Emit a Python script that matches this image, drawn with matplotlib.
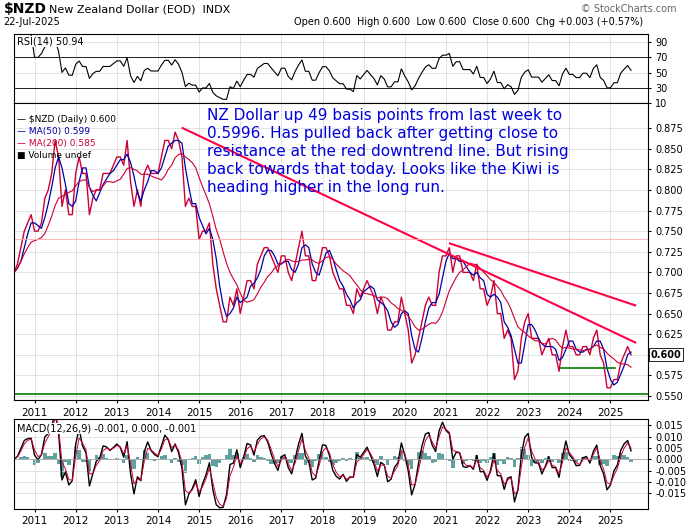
import matplotlib.pyplot as plt
import numpy as np
import pandas as pd

# monthly closes, Jul 2010 .. Jul 2025
closes = [0.70, 0.71, 0.73, 0.75, 0.76, 0.77,
          0.75, 0.75, 0.76, 0.79, 0.80, 0.82, 0.86, 0.84, 0.78, 0.80, 0.77, 0.77,
          0.82, 0.84, 0.82, 0.82, 0.77, 0.79, 0.80, 0.80, 0.82, 0.82, 0.82, 0.83,
          0.84, 0.84, 0.83, 0.86, 0.81, 0.78, 0.80, 0.78, 0.82, 0.83, 0.82, 0.82,
          0.82, 0.84, 0.86, 0.86, 0.85, 0.87, 0.86, 0.84, 0.78, 0.79, 0.78, 0.78,
          0.74, 0.75, 0.75, 0.76, 0.71, 0.68, 0.66, 0.64, 0.64, 0.67, 0.66, 0.68,
          0.65, 0.67, 0.69, 0.69, 0.68, 0.71, 0.72, 0.73, 0.73, 0.72, 0.71, 0.70,
          0.72, 0.72, 0.70, 0.69, 0.71, 0.73, 0.75, 0.72, 0.72, 0.69, 0.69, 0.71,
          0.73, 0.73, 0.72, 0.70, 0.69, 0.68, 0.68, 0.66, 0.66, 0.65, 0.68, 0.67,
          0.68, 0.69, 0.68, 0.67, 0.65, 0.67, 0.66, 0.63, 0.63, 0.64, 0.64, 0.67,
          0.65, 0.63, 0.59, 0.60, 0.62, 0.64, 0.66, 0.67, 0.66, 0.66, 0.70, 0.72,
          0.72, 0.73, 0.70, 0.72, 0.72, 0.70, 0.70, 0.70, 0.69, 0.71, 0.68, 0.68,
          0.66, 0.67, 0.69, 0.65, 0.65, 0.62, 0.63, 0.62, 0.57, 0.58, 0.62, 0.64,
          0.65, 0.62, 0.62, 0.62, 0.60, 0.61, 0.62, 0.60, 0.60, 0.58, 0.61, 0.63,
          0.61, 0.61, 0.60, 0.60, 0.61, 0.61, 0.60, 0.62, 0.63, 0.60, 0.59, 0.56,
          0.56, 0.57, 0.57, 0.59, 0.60, 0.61, 0.60]
years = list(range(2011, 2026))
trend1 = ([2014.6, 2025.6], [0.875, 0.615])
trend2 = ([2021.1, 2025.6], [0.735, 0.66])
support = ([2023.8, 2025.1], [0.584, 0.584])
note = ("NZ Dollar up 49 basis points from last week to\n0.5996. Has pulled back after getting close to\n"
        "resistance at the red downtrend line. But rising\nback towards that today. Looks like the Kiwi is\n"
        "heading higher in the long run.")

t = 2010.5 + np.arange(len(closes)) / 12
s = pd.Series(closes)
ma50 = s.rolling(3, min_periods=1).mean()
ma200 = s.rolling(10, min_periods=1).mean()
d = s.diff()
up = d.clip(lower=0).ewm(alpha=1/8).mean()
dn = (-d.clip(upper=0)).ewm(alpha=1/8).mean()
rsi = 100 - 100 / (1 + up / dn.replace(0, 1e-9))
macd = s.ewm(span=2).mean() - s.ewm(span=4).mean()
sig = macd.ewm(span=2).mean()

fig = plt.figure(figsize=(7, 5.3), dpi=100)
axr = fig.add_axes([0.02, 0.805, 0.905, 0.13])
axp = fig.add_axes([0.02, 0.245, 0.905, 0.56])
axm = fig.add_axes([0.02, 0.04, 0.905, 0.17])
xlim = (2010.5, 2025.9)

for ax in (axr, axp, axm):
    ax.set_xlim(*xlim)
    ax.yaxis.tick_right()
    ax.tick_params(labelsize=7, length=2)
    ax.set_xticks(years)
    ax.grid(color='#dddddd', lw=0.6)
axr.set_xticklabels([])

axr.plot(t, rsi, color='black', lw=0.8)
axr.set_ylim(10, 100)
axr.set_yticks([10, 30, 50, 70, 90])
for lvl in (30, 70):
    axr.axhline(lvl, color='black', lw=0.6)
axr.text(0.005, 0.85, 'RSI(14) 50.94', transform=axr.transAxes, fontsize=7,
         bbox=dict(fc='white', ec='none', pad=0.5))

axp.plot(t, closes, color='#cc0033', lw=1.0)
axp.plot(t, ma50, color='#0000aa', lw=0.9)
axp.plot(t, ma200, color='#cc0033', lw=0.8)
axp.plot(*trend1, color='#ff0044', lw=1.5)
axp.plot(*trend2, color='#ff0044', lw=1.5)
axp.plot(*support, color='green', lw=1.2)
axp.axhline(0.552, color='green', lw=1.2)
axp.axhline(0.74, color='#ffaaaa', lw=0.6)
axp.set_ylim(0.545, 0.905)
ticks = np.arange(0.55, 0.876, 0.025)
axp.set_yticks(ticks)
axp.set_yticklabels(['' if abs(v - 0.6) < 1e-6 else f'{v:.3f}' for v in ticks])
axp.text(2015.2, 0.899, note, color='#0000dd', fontsize=11, linespacing=1.25, va='top')
axp.text(0.005, 0.96, '\u2014 $NZD (Daily) 0.600', transform=axp.transAxes, fontsize=6.5, va='top')
axp.text(0.005, 0.92, '\u2014 MA(50) 0.599', transform=axp.transAxes, fontsize=6.5, va='top', color='#0000aa')
axp.text(0.005, 0.88, '\u2014 MA(200) 0.585', transform=axp.transAxes, fontsize=6.5, va='top', color='#cc0033')
axp.text(0.005, 0.84, '\u25a0 Volume undef', transform=axp.transAxes, fontsize=6.5, va='top')
axp.text(1.005, 0.6, '0.600', transform=axp.get_yaxis_transform(), fontsize=7, fontweight='bold',
         va='center', bbox=dict(fc='white', ec='black', lw=0.6, pad=1))

axm.plot(t, macd, color='black', lw=1.0)
axm.plot(t, sig, color='#cc0033', lw=0.7)
axm.bar(t, macd - sig, width=1/12, color='#5fa0a0')
axm.axhline(0, color='#999999', lw=0.5)
axm.set_ylim(-0.022, 0.018)
axm.set_yticks([-0.015, -0.01, -0.005, 0, 0.005, 0.01, 0.015])
axm.set_yticklabels(['-0.015', '-0.010', '-0.005', '0.000', '0.005', '0.010', '0.015'])
axm.text(0.005, 0.86, 'MACD(12,26,9) -0.001, 0.000, -0.001', transform=axm.transAxes, fontsize=7,
         bbox=dict(fc='white', ec='none', pad=0.5))
axp.tick_params(axis='x', labelsize=7.5)
axm.tick_params(axis='x', labelsize=7.5)

fig.text(0.005, 0.975, '$NZD', fontsize=10, fontweight='bold')
fig.text(0.07, 0.977, 'New Zealand Dollar (EOD)  INDX', fontsize=8)
fig.text(0.005, 0.952, '22-Jul-2025', fontsize=7)
fig.text(0.42, 0.952, 'Open 0.600  High 0.600  Low 0.600  Close 0.600  Chg +0.003 (+0.57%)', fontsize=7)
fig.text(0.83, 0.977, '\u00a9 StockCharts.com', fontsize=7, color='#666666')
fig.savefig('out.png', dpi=100)
